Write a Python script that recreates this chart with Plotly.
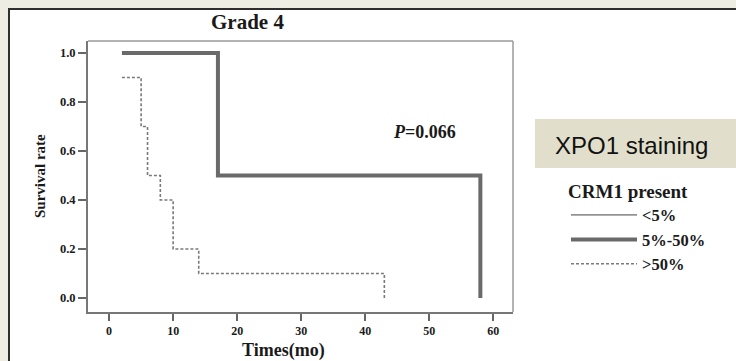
import plotly.graph_objects as go

# ---- data ----
t_5_50 = [2, 17, 58]
s_5_50 = [1.0, 0.5, 0.0]
t_gt50 = [2, 5, 6, 8, 10, 14, 43]
s_gt50 = [0.9, 0.7, 0.5, 0.4, 0.2, 0.1, 0.0]
x_ticks = [0, 10, 20, 30, 40, 50, 60]
y_ticks = [0.0, 0.2, 0.4, 0.6, 0.8, 1.0]
y_tick_labels = ["0.0", "0.2", "0.4", "0.6", "0.8", "1.0"]

SERIF = "Liberation Serif"
W, H = 736, 361
L, R, T, B = 88, 513, 41, 312


def px(xpix):
    return (xpix - L) / (R - L)


def py(ypix):
    return 1 - (ypix - T) / (B - T)


fig = go.Figure()
fig.add_trace(go.Scatter(x=[None], y=[None], mode="lines", name="<5%",
                         line=dict(color="#444", width=1)))
fig.add_trace(go.Scatter(x=t_5_50, y=s_5_50, mode="lines", name="5%-50%",
                         line=dict(color="#6a6a6a", width=4, shape="hv")))
fig.add_trace(go.Scatter(x=t_gt50, y=s_gt50, mode="lines", name=">50%",
                         line=dict(color="#7a7a7a", width=1.6, shape="hv", dash="3px,2px")))

shapes = [
    # white panel of the picture
    dict(type="rect", xref="paper", yref="paper", x0=px(9), x1=px(745), y0=py(370), y1=py(9),
         fillcolor="white", line=dict(color="#2e2e2e", width=2), layer="below"),
    # XPO1 box
    dict(type="rect", xref="paper", yref="paper", x0=px(535), x1=px(745), y0=py(168), y1=py(119),
         fillcolor="#e1dfcc", line=dict(width=0), layer="below"),
    # top and right frame
    dict(type="line", xref="paper", yref="paper", x0=0, x1=1, y0=1, y1=1,
         line=dict(color="#9a9a9a", width=1.5)),
    dict(type="line", xref="paper", yref="paper", x0=1, x1=1, y0=0, y1=1,
         line=dict(color="#9a9a9a", width=1.5)),
]

bold = dict(family=SERIF, color="#1a1a1a", weight="bold")


def ann(text, xp, yp, size, xanchor="center", **kw):
    return dict(text=text, xref="paper", yref="paper", x=px(xp), y=py(yp), showarrow=False,
                xanchor=xanchor, yanchor="middle", font=kw.pop("font", dict(bold, size=size)), **kw)


annotations = [
    ann("Grade 4", 247, 22, 21),
    ann("Times(mo)", 283, 350, 18),
    ann("Survival rate", 40, 176, 15, textangle=-90),
    ann("<i>P</i>=0.066", 424, 132, 18),
    ann("XPO1 staining", 553, 145, 24, xanchor="left",
        font=dict(family="Liberation Sans", size=24, color="#111")),
]

fig.update_layout(
    width=W, height=H,
    margin=dict(l=L, r=W - R, t=T, b=H - B, pad=0),
    paper_bgcolor="#eeede3",
    plot_bgcolor="white",
    shapes=shapes,
    annotations=annotations,
    showlegend=True,
    legend=dict(
        x=px(566), y=py(173), xanchor="left", yanchor="top",
        bgcolor="rgba(0,0,0,0)",
        title=dict(text="CRM1 present", font=dict(bold, size=19)),
        font=dict(bold, size=16.5),
        itemwidth=66,
        tracegroupgap=0,
    ),
    xaxis=dict(
        range=[-3.3, 63.1], tickvals=x_ticks, ticks="outside", ticklen=7, tickwidth=2,
        tickcolor="#666", showline=True, linecolor="#777", linewidth=2, showgrid=False,
        zeroline=False, tickfont=dict(bold, size=12),
    ),
    yaxis=dict(
        range=[-0.057, 1.049], tickvals=y_ticks, ticktext=y_tick_labels, ticks="outside",
        ticklen=8, tickwidth=2, tickcolor="#666", showline=True, linecolor="#777",
        linewidth=2, showgrid=False, zeroline=False, tickfont=dict(bold, size=12.5),
    ),
)

fig.write_html(
    "out.html",
    config={"displayModeBar": False},
    post_script="document.body.style.margin='0px';document.body.style.padding='0px';"
                "document.body.style.overflow='hidden';document.body.style.background='#eeede3';",
)
